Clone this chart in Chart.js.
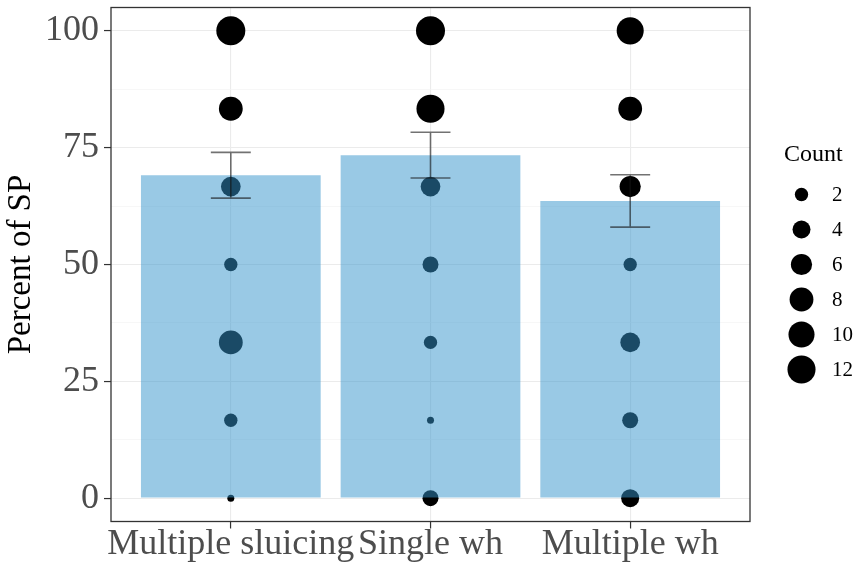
<!DOCTYPE html>
<html>
<head>
<meta charset="utf-8">
<script src="https://cdn.jsdelivr.net/npm/chart.js@4/dist/chart.umd.min.js"></script>
<style>
  html, body { margin: 0; padding: 0; background: #ffffff; }
  #wrap { width: 857px; height: 564px; }
</style>
</head>
<body>
<div id="wrap"><canvas id="chart" width="857" height="564"></canvas></div>
<script>
// Groups on the x axis
const categories = ['Multiple sluicing', 'Single wh', 'Multiple wh'];

// Mean percent of SP per group and its standard error
const meanPct = [69.1, 73.4, 63.6];
const sePct = [4.9, 4.9, 5.6];

// Possible response levels (percent) and how many answers fell on each level
const responseLevels = [0, 16.67, 33.33, 50, 66.67, 83.33, 100];
const countsMultipleSluicing = [1, 2, 8, 2, 5, 8, 13];
const countsSingleWh = [3, 1, 2, 3, 5, 12, 13];
const countsMultipleWh = [4, 3, 5, 2, 6, 8, 11];

// Axis ticks and size-legend entries
const yMajorTicks = [0, 25, 50, 75, 100];
const yMinorTicks = [12.5, 37.5, 62.5, 87.5];
const legendCounts = [2, 4, 6, 8, 10, 12];

const SERIF = "'Liberation Serif', 'Times New Roman', serif";
Chart.defaults.font.family = SERIF;

// Area-style size scale: count 1 -> smallest dot, count 13 -> largest dot
const countMin = 1, countMax = 13;
function dotRadius(count) {
  const t = Math.sqrt((count - countMin) / (countMax - countMin));
  return (7 + 22 * t) / 2;
}

const allCounts = [countsMultipleSluicing, countsSingleWh, countsMultipleWh];
const dotData = [];
const dotRadii = [];
allCounts.forEach((counts, gi) => {
  counts.forEach((c, li) => {
    dotData.push({ x: gi + 1, y: responseLevels[li] });
    dotRadii.push(dotRadius(c));
  });
});

const barData = meanPct.map((m, i) => ({ x: i + 1, y: m }));
const isMajor = v => yMajorTicks.includes(v);

// Mean +/- SE whiskers
const errorBars = {
  id: 'errorBars',
  afterDatasetsDraw(chart) {
    const { ctx, scales: { x, y } } = chart;
    ctx.save();
    ctx.strokeStyle = 'rgba(20,20,20,0.6)';
    ctx.lineWidth = 1.6;
    meanPct.forEach((m, i) => {
      const cx = x.getPixelForValue(i + 1);
      const half = x.getPixelForValue(i + 1.1) - cx;
      const top = y.getPixelForValue(m + sePct[i]);
      const bot = y.getPixelForValue(m - sePct[i]);
      ctx.beginPath();
      ctx.moveTo(cx, top); ctx.lineTo(cx, bot);
      ctx.moveTo(cx - half, top); ctx.lineTo(cx + half, top);
      ctx.moveTo(cx - half, bot); ctx.lineTo(cx + half, bot);
      ctx.stroke();
    });
    ctx.restore();
  }
};

// Panel frame and the "Count" size legend
const panelAndLegend = {
  id: 'panelAndLegend',
  afterDraw(chart) {
    const { ctx, chartArea: a } = chart;
    ctx.save();
    ctx.strokeStyle = '#333333';
    ctx.lineWidth = 1.3;
    ctx.strokeRect(a.left, a.top, a.right - a.left, a.bottom - a.top);

    const lx = a.right + 34;
    ctx.fillStyle = '#000000';
    ctx.textBaseline = 'middle';
    ctx.textAlign = 'left';
    ctx.font = '24px ' + SERIF;
    ctx.fillText('Count', lx, 155);
    ctx.font = '21px ' + SERIF;
    legendCounts.forEach((c, i) => {
      const cy = 194.5 + 35 * i;
      ctx.beginPath();
      ctx.arc(lx + 17.5, cy, dotRadius(c), 0, Math.PI * 2);
      ctx.fill();
      ctx.fillText(String(c), lx + 48, cy + 1);
    });
    ctx.restore();
  }
};

new Chart(document.getElementById('chart'), {
  type: 'bar',
  data: {
    datasets: [
      {
        type: 'scatter',
        data: dotData,
        pointRadius: dotRadii,
        pointHoverRadius: dotRadii,
        pointBackgroundColor: '#000000',
        pointBorderWidth: 0,
        borderWidth: 0,
        order: 2
      },
      {
        type: 'bar',
        data: barData,
        backgroundColor: 'rgba(52,148,204,0.5)',
        borderWidth: 0,
        inflateAmount: 0,
        barPercentage: 0.9,
        categoryPercentage: 1.0,
        order: 1
      }
    ]
  },
  options: {
    responsive: false,
    animation: false,
    devicePixelRatio: 1,
    layout: { autoPadding: false, padding: { left: 0, top: 7.5, right: 107, bottom: 0 } },
    plugins: {
      legend: { display: false },
      tooltip: { enabled: false }
    },
    scales: {
      x: {
        type: 'linear',
        offset: false,
        min: 0.4,
        max: 3.6,
        afterBuildTicks: s => { s.ticks = [1, 2, 3].map(v => ({ value: v })); },
        afterFit: s => { s.height = 42.5; s.paddingLeft = 0; s.paddingRight = 0; },
        border: { display: false },
        grid: {
          offset: false,
          color: '#ebebeb',
          lineWidth: 1.1,
          drawTicks: true,
          tickLength: 7,
          tickColor: '#333333',
          tickWidth: 1.2
        },
        ticks: {
          autoSkip: false,
          maxRotation: 0,
          padding: -2,
          color: '#4d4d4d',
          font: { size: 36, lineHeight: 1.0 },
          callback: v => categories[v - 1]
        }
      },
      y: {
        min: -5,
        max: 105,
        afterBuildTicks: s => {
          s.ticks = [...yMajorTicks, ...yMinorTicks].sort((p, q) => p - q).map(v => ({ value: v }));
        },
        afterFit: s => { s.width = 111; s.paddingTop = 0; s.paddingBottom = 0; },
        border: { display: false },
        grid: {
          color: ctx => isMajor(ctx.tick.value) ? '#ebebeb' : '#f4f4f4',
          lineWidth: ctx => isMajor(ctx.tick.value) ? 1.1 : 0.7,
          drawTicks: true,
          tickLength: 7,
          tickColor: ctx => isMajor(ctx.tick.value) ? '#333333' : 'rgba(0,0,0,0)',
          tickWidth: 1.2
        },
        ticks: {
          autoSkip: false,
          padding: 5,
          color: '#4d4d4d',
          font: { size: 36 },
          callback: v => isMajor(v) ? String(v) : ''
        },
        title: {
          display: true,
          text: 'Percent of SP',
          color: '#000000',
          font: { size: 33 },
          padding: { top: 2, bottom: 0 }
        }
      }
    }
  },
  plugins: [errorBars, panelAndLegend]
});
</script>
</body>
</html>
